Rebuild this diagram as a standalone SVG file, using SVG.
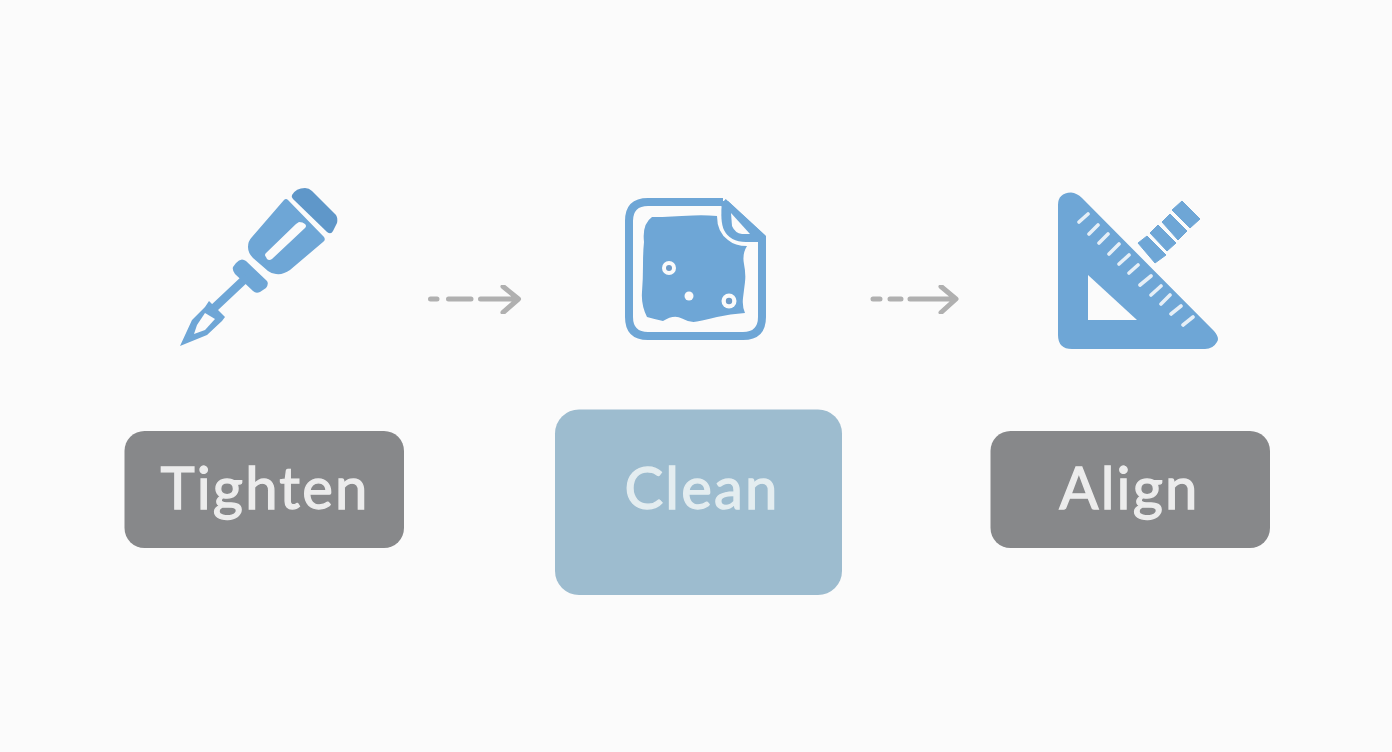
<svg xmlns="http://www.w3.org/2000/svg" width="1392" height="752" viewBox="0 0 1392 752">
<defs><filter id="soft" x="-5%" y="-5%" width="110%" height="110%"><feGaussianBlur stdDeviation="0.6"/></filter></defs>
<style>
.ic{fill:#6ea6d6}
.ln{fill:none;stroke:#6ea6d6}
.hole{fill:#fbfbfb}
.ar{fill:none;stroke:#b0b0b0;stroke-width:5;stroke-linecap:round;stroke-linejoin:round}
.lb{font-family:Lato,"Noto Sans",sans-serif;font-size:58px;letter-spacing:2.2px;text-anchor:middle;fill:#ececec;stroke:#ececec;stroke-width:1.3px}
.tk{stroke:#e6eff7;stroke-width:3.6;stroke-linecap:round;fill:none}
</style>
<rect width="1392" height="752" fill="#fbfbfb"/>
<g id="connectors" filter="url(#soft)">
<path class="ar" d="M430.500 299H437M448.500 299H471M480.500 299H518M503 286.500L518.500 299L503 312.500"/>
<path class="ar" d="M873 299H880M890 299H901M910 299H955M941 286.500L956 299L941 312.500"/>
</g>
<g id="tighten-icon" filter="url(#soft)">
<path d="M292 195Q296 188 305 188Q309 188 312 191L336 215Q338 218 337 223L333 231Q331 235 327 232L293 199Q291 197 292 195Z" fill="#5f97c9"/>
<path class="ic" d="M284 200Q286 198 288 200L324 237Q326 240 323 242L290 270Q283 275 276 274Q272 274 268 271L253 258Q248 253 248 247Q248 241 252 237Z"/>
<path class="hole" d="M299 222Q303 222 305 224Q307 226 305 228L272 259Q269 261 267 259L266 257Q264 255 266 253L296 224Z"/>
<path class="ic" d="M236 263Q241 257 246 261L267 281Q269 284 266 288L260 292Q256 294 253 291L235 274Q232 270 233 267Z"/>
<path class="ln" stroke-width="8.500" d="M247 277L213 309"/>
<path class="ic" d="M209 301L225 317L222 321L207 335L180 346L192 320L205 307Z"/>
<path class="hole" d="M205 313L215 319L205 330L194 334L197 325Z"/>
</g>
<g id="clean-icon" filter="url(#soft)">
<path class="ln" stroke-width="8" stroke-linejoin="round" d="M723 202H648Q629 202 629 221V317Q629 336 648 336H743Q762 336 762 317V238L723 202"/>
<path class="ic" d="M722 201L728 201L766 236V242H746Q730 242 724 230Q720 222 722 201Z"/>
<path class="hole" d="M731 213L750 234H742Q735 233 732 226Z"/>
<path class="ic" d="M652 217Q663 217 672 216.500T693 215.500T717 216Q717 232 728 240Q735 246 747 246Q742 254 744 264T745 282T743 298T745 313Q730 314 717 317T697 321.500T682 318.500T663 321Q654 319 647 317Q641 305 642 292T643 265T644 242Q642 224 652 217Z"/>
<circle cx="669" cy="268" r="7" class="hole"/><circle cx="669" cy="268" r="3" fill="#6f9cc8"/>
<circle cx="689" cy="296" r="4.500" class="hole"/>
<circle cx="729" cy="301" r="7.500" class="hole"/><circle cx="729" cy="301" r="3.200" fill="#6f9cc8"/>
</g>
<g id="align-icon" filter="url(#soft)">
<path class="ic" d="M1058 205Q1058 193 1071 192.500Q1077 193 1082 198L1214 331Q1220 338 1217 342Q1213 349 1205 349H1072Q1058 349 1058 335Z"/>
<path class="hole" d="M1088 275L1137 320H1088Z"/>
<path class="tk" d="M1079 222L1088 214M1089 234L1098 225M1099 243L1108 234M1109 254L1119 244M1119 264L1129 255M1129 273L1138 265M1140 285L1151 276M1151 295L1161 286M1161 304L1170 295M1171 314L1181 306M1183 325L1193 317"/>
<path d="M1138 243L1147 236L1166 255L1155 263ZM1150 233L1158 225L1176 243L1167 251ZM1162 222L1170 214L1187 231L1178 240ZM1172 210L1182 201L1200 219L1190 228Z" class="ic" stroke="#6ea6d6" stroke-width="1" stroke-linejoin="round"/>
</g>
<g id="tighten">
<rect x="124.500" y="431" width="279.500" height="117" rx="20" fill="#87888a"/>
<text class="lb" x="265" y="508.500">Tighten</text>
</g>
<g id="clean">
<rect x="555" y="409.500" width="287" height="185.500" rx="24" fill="#9dbccf"/>
<text class="lb" x="702" y="508.500" style="fill:#e4edf0;stroke:#e4edf0">Clean</text>
</g>
<g id="align">
<rect x="990.500" y="431" width="279.500" height="117" rx="20" fill="#87888a"/>
<text class="lb" x="1129.500" y="508.500">Align</text>
</g>
</svg>
